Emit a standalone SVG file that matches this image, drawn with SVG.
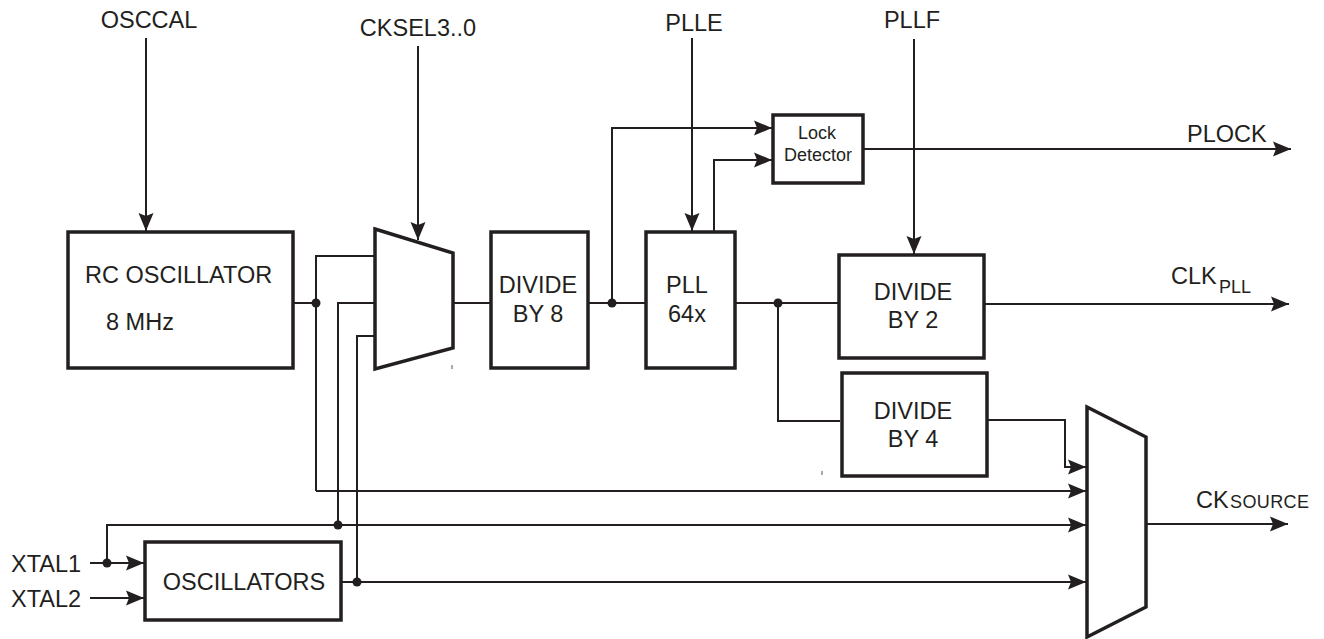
<svg xmlns="http://www.w3.org/2000/svg" width="1324" height="639" viewBox="0 0 1324 639">
<defs>
<marker id="arr" markerUnits="userSpaceOnUse" markerWidth="18" markerHeight="15" refX="18" refY="7.5" orient="auto" overflow="visible">
<path d="M0,0 L18,7.5 L0,15 L3,7.5 Z" fill="#231f20"/>
</marker>
<style>
.box{fill:#fff;stroke:#231f20;stroke-width:3.5;stroke-linejoin:miter}
.w{fill:none;stroke:#231f20;stroke-width:2}
.a{fill:none;stroke:#231f20;stroke-width:2;marker-end:url(#arr)}
.dot{fill:#231f20}
.t{font-family:"Liberation Sans",Arial,Helvetica,sans-serif;font-size:23.5px;fill:#231f20}
.s{font-family:"Liberation Sans",Arial,Helvetica,sans-serif;font-size:18px;fill:#231f20}
.m{text-anchor:middle}
</style>
</defs>
<rect width="1324" height="639" fill="#fff"/>

<g id="connectors">
<path class="a" d="M146,38 V231"/>
<path class="a" d="M418,46 V240"/>
<path class="a" d="M692,38 V231"/>
<path class="a" d="M914,39 V254"/>
<path class="w" d="M293,303 H316"/>
<path class="w" d="M375,256 H316 V491"/>
<path class="a" d="M316,491 H1086"/>
<path class="w" d="M375,303 H338 V525"/>
<path class="a" d="M107,563 V525 H1086"/>
<path class="a" d="M90,563 H144"/>
<path class="a" d="M90,598 H144"/>
<path class="w" d="M375,336 H357 V582"/>
<path class="a" d="M341,582 H1086"/>
<path class="w" d="M453,303 H491"/>
<path class="w" d="M588,303 H646"/>
<path class="a" d="M612,303 V128 H772"/>
<path class="a" d="M714,232 V160 H772"/>
<path class="a" d="M863,149 H1291"/>
<path class="w" d="M735,303 H839"/>
<path class="w" d="M778,303 V421 H840"/>
<path class="a" d="M984,304 H1289"/>
<path class="a" d="M987,420 H1065 V467 H1086"/>
<path class="a" d="M1146,524 H1288"/>
<circle class="dot" cx="316" cy="303" r="4.5"/>
<circle class="dot" cx="338" cy="525" r="4.5"/>
<circle class="dot" cx="357" cy="582" r="4.5"/>
<circle class="dot" cx="107" cy="563" r="4.5"/>
<circle class="dot" cx="612" cy="303" r="4.5"/>
<circle class="dot" cx="778" cy="303" r="4.5"/>
<path d="M452,365 V369 M822,471 V475" stroke="#555" stroke-width="1"/>
</g>

<g id="labels">
<text class="t m" x="149" y="28">OSCCAL</text>
<text class="t m" x="418" y="36">CKSEL3..0</text>
<text class="t m" x="694" y="31">PLLE</text>
<text class="t m" x="912" y="28">PLLF</text>
<text class="t" x="1187" y="142">PLOCK</text>
<text class="t" x="1171" y="284">CLK<tspan class="s" x="1219" y="293">PLL</tspan></text>
<text class="t" x="1196" y="508">CK<tspan class="s" x="1230" y="508" textLength="79">SOURCE</tspan></text>
<text class="t" x="11" y="572">XTAL1</text>
<text class="t" x="11" y="607">XTAL2</text>
</g>

<g id="rc-osc">
<rect class="box" x="68" y="232" width="225" height="136"/>
<text class="t" x="85" y="283">RC OSCILLATOR</text>
<text class="t" x="106" y="330">8 MHz</text>
</g>

<g id="mux1">
<polygon class="box" points="375,229 453,253 453,348 375,369"/>
</g>

<g id="div8">
<rect class="box" x="491" y="232" width="97" height="136"/>
<text class="t m" x="538" y="293">DIVIDE</text>
<text class="t m" x="538" y="322">BY 8</text>
</g>

<g id="pll">
<rect class="box" x="646" y="232" width="89" height="136"/>
<text class="t m" x="687" y="293">PLL</text>
<text class="t m" x="687" y="322">64x</text>
</g>

<g id="lock">
<rect class="box" x="773" y="115" width="90" height="68"/>
<text class="s m" x="817" y="139">Lock</text>
<text class="s m" x="818" y="161">Detector</text>
</g>

<g id="div2">
<rect class="box" x="839" y="255" width="145" height="103"/>
<text class="t m" x="913" y="300">DIVIDE</text>
<text class="t m" x="913" y="328">BY 2</text>
</g>

<g id="div4">
<rect class="box" x="842" y="373" width="145" height="103"/>
<text class="t m" x="913" y="419">DIVIDE</text>
<text class="t m" x="913" y="447">BY 4</text>
</g>

<g id="oscillators">
<rect class="box" x="145" y="542" width="196" height="78"/>
<text class="t m" x="244" y="590">OSCILLATORS</text>
</g>

<g id="mux2">
<polygon class="box" points="1087,407 1146,437 1146,607 1087,637"/>
</g>
</svg>
